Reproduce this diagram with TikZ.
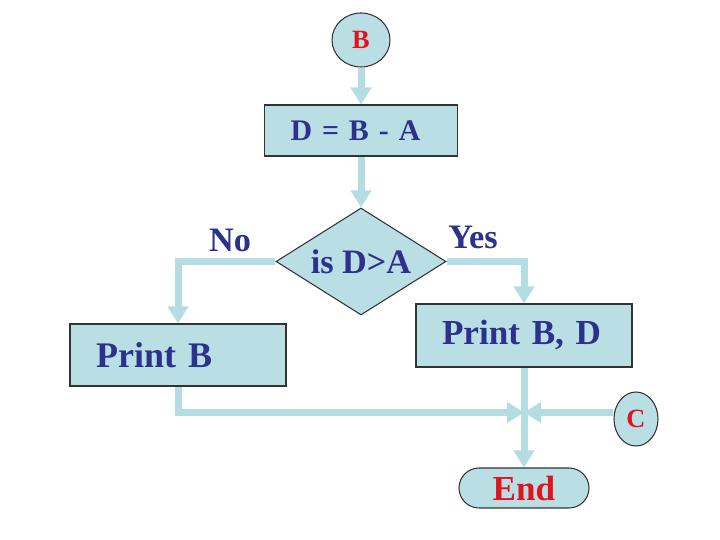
\documentclass[tikz,border=0pt]{standalone}
\usepackage{fontspec}
\setmainfont{Liberation Serif}
\usetikzlibrary{shapes.geometric,arrows.meta}
\definecolor{boxfill}{RGB}{185,223,229}
\definecolor{linecol}{RGB}{180,220,227}
\definecolor{txtblue}{RGB}{44,50,140}
\definecolor{txtred}{RGB}{225,20,30}
\begin{document}
\begin{tikzpicture}[
    box/.style={draw=black!80, line width=0.6pt, fill=boxfill, text=txtblue, align=left, inner xsep=0.52cm, inner ysep=0pt},
    term/.style={ellipse, draw=black!80, line width=0.6pt, fill=boxfill, text=txtred, inner sep=0pt},
    etichetta/.style={text=txtblue, font=\bfseries\fontsize{19.5}{21}\selectfont},
    freccia/.style={draw=linecol, line width=0.14cm, -{Triangle[width=0.4cm,length=0.34cm]}}
]
    \useasboundingbox (0,0) rectangle (14.4,10.8);

    % Inizio e calcolo
    \node[term, minimum width=1.16cm, minimum height=1.08cm, font=\bfseries\fontsize{15}{16}\selectfont] (b) at (7.22,10.0) {B};
    \node[box, text width=2.82cm, minimum height=1.02cm, font=\bfseries\fontsize{17}{19}\selectfont] (diff) at (7.22,8.19) {D = B - A};

    % Decisione
    \node[diamond, aspect=1.6, draw=black!80, line width=0.6pt, fill=boxfill, text=txtblue, inner sep=0pt,
          minimum width=3.4cm, minimum height=2.14cm, font=\bfseries\fontsize{19.5}{21}\selectfont] (test) at (7.22,5.57) {is D>A};
    \node[etichetta] (no) at (4.6,6.0) {No};
    \node[etichetta] (yes) at (9.46,6.06) {Yes};

    % Stampe
    \node[box, text width=3.28cm, minimum height=1.24cm, font=\bfseries\fontsize{20.5}{22}\selectfont] (printb) at (3.56,3.7) {Print B};
    \node[box, text width=3.28cm, minimum height=1.26cm, font=\bfseries\fontsize{20}{22}\selectfont] (printbd) at (10.48,4.09) {Print B, D};

    % Fine e connettore C
    \coordinate (join) at ([yshift=-0.9cm]printbd.south);
    \node[term, minimum width=0.88cm, minimum height=1.08cm, font=\bfseries\fontsize{15}{16}\selectfont] (c) at (12.72,2.42) {C};
    \node[draw=black!80, line width=0.6pt, fill=boxfill, text=txtred, rounded corners=0.4cm, minimum width=2.6cm, minimum height=0.8cm,
          font=\bfseries\fontsize{20}{21}\selectfont] (fine) at (10.48,1.04) {End};

    % Frecce
    \draw[freccia] (b) -- (diff);
    \draw[freccia] (diff) -- (test);
    \draw[freccia] (test.west) -| (printb.north);
    \draw[freccia] (test.east) -| (printbd.north);
    \draw[freccia] (printb.south) |- (join);
    \draw[freccia] (c.west |- join) -- (join);
    \draw[freccia] (printbd.south) -- (fine);
\end{tikzpicture}
\end{document}
